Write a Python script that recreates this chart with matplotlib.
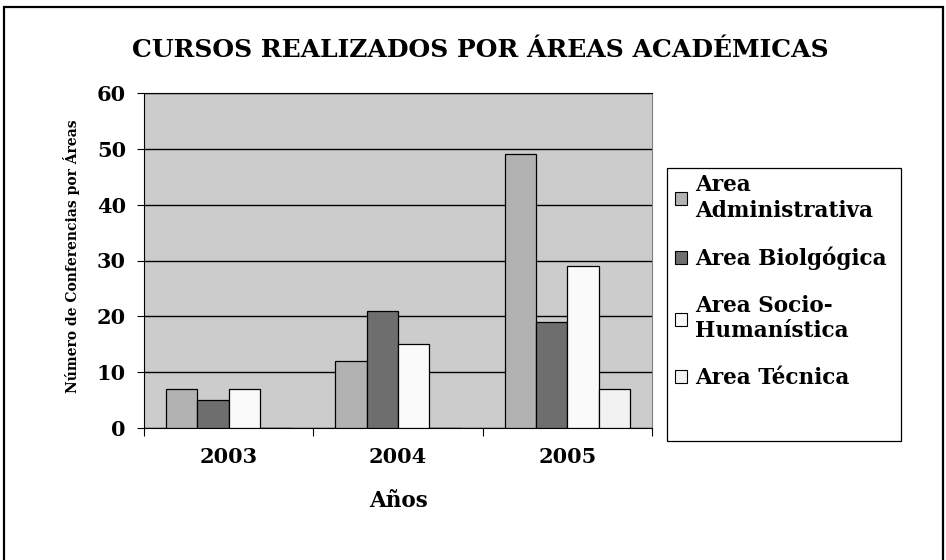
import matplotlib.pyplot as plt
from matplotlib.patches import Rectangle, Patch
import numpy as np

# datos
years = ["2003", "2004", "2005"]
areas = ["Area\nAdministrativa", "Area Biolgógica", "Area Socio-\nHumanística", "Area Técnica"]
administrativa = [7, 12, 49]
biologica = [5, 21, 19]
socio = [7, 15, 29]
tecnica = [0, 0, 7]
yticks = [0, 10, 20, 30, 40, 50, 60]

colors = ["#b2b2b2", "#6e6e6e", "#fafafa", "#f2f2f2"]
series = [administrativa, biologica, socio, tecnica]
serif = "DejaVu Serif"

fig = plt.figure(figsize=(9.46, 5.6), dpi=100)
ax = fig.add_axes([144/946, 1-428/560, (652-144)/946, (428-93)/560])
ax.set_facecolor("#cccccc")

x = np.arange(len(years))
w = 0.185
for i, (vals, c) in enumerate(zip(series, colors)):
    ax.bar(x + (i-1.5)*w, vals, w, color=c, edgecolor="black", linewidth=0.9, zorder=3)

ax.set_xlim(-0.5, 2.5)
ax.set_ylim(0, 60)
ax.set_yticks(yticks)
ax.yaxis.grid(True, color="black", linewidth=1.0, zorder=0)
ax.set_axisbelow(True)
ax.tick_params(axis="y", length=5, width=0.8, pad=8)
ax.set_xticks(x)
ax.set_xticklabels(years)
ax.set_xticks([-0.5, 0.5, 1.5, 2.5], minor=True)
ax.tick_params(axis="x", which="major", length=0, pad=14)
ax.tick_params(axis="x", which="minor", length=6, width=0.8)
for lab in ax.get_xticklabels() + ax.get_yticklabels():
    lab.set_fontfamily(serif)
    lab.set_fontweight("bold")
    lab.set_fontsize(15)

ax.spines["left"].set_color("black")
ax.spines["bottom"].set_color("black")
ax.spines["top"].set_color("black")
ax.spines["right"].set_color("#808080")

ax.set_xlabel("Años", fontfamily=serif, fontweight="bold", fontsize=15.5, labelpad=16)
fig.text(72/946, 1-256/560, "Número de Conferencias por Áreas", rotation=90,
         ha="center", va="center", fontfamily=serif, fontweight="bold", fontsize=10)

fig.text(480/946, 1-50/560, "CURSOS REALIZADOS POR ÁREAS ACADÉMICAS", ha="center", va="center",
         fontfamily=serif, fontweight="bold", fontsize=18)

# leyenda con marco propio
fig.patches.append(Rectangle((667/946, 1-441/560), (901-667)/946, (441-168)/560,
                             transform=fig.transFigure, facecolor="white",
                             edgecolor="black", linewidth=0.9, zorder=1))
handles = [Patch(facecolor=c, edgecolor="black", linewidth=0.8) for c in colors]
leg = fig.legend(handles, areas, loc="upper left",
                 bbox_to_anchor=(671/946, 1-170/560), frameon=False,
                 prop={"family": serif, "weight": "bold", "size": 15.5},
                 handlelength=0.55, handleheight=0.55, handletextpad=0.35,
                 labelspacing=1.15, borderpad=0.2, borderaxespad=0)

# marco exterior
fig.patches.append(Rectangle((4/946, -0.1), (943-4)/946, 1.1 - 7/560, transform=fig.transFigure,
                             fill=False, edgecolor="black", linewidth=1.6))

fig.savefig("out.png", dpi=100)
